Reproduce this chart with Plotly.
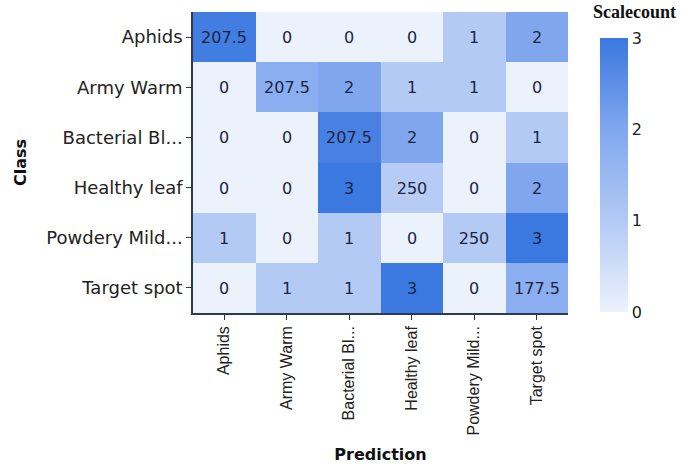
import plotly.graph_objects as go

# Class names (rows = true class, columns = predicted class)
classes = ["Aphids", "Army Warm", "Bacterial Bl...", "Healthy leaf",
           "Powdery Mild...", "Target spot"]

# Values printed in each cell
cell_labels = [
    ["207.5", "0", "0", "0", "1", "2"],
    ["0", "207.5", "2", "1", "1", "0"],
    ["0", "0", "207.5", "2", "0", "1"],
    ["0", "0", "3", "250", "0", "2"],
    ["1", "0", "1", "0", "250", "3"],
    ["0", "1", "1", "3", "0", "177.5"],
]

# Scalecount used for the cell shading (0-3 scale)
scale_count = [
    [2.9, 0, 0, 0, 1, 2],
    [0, 1.8, 2, 1, 1, 0],
    [0, 0, 2.8, 2, 0, 1],
    [0, 0, 3, 0.95, 0, 2],
    [1, 0, 1, 0, 1.0, 3],
    [0, 1, 1, 3, 0, 1.8],
]

colorbar_ticks = [0, 1, 2, 3]

blues = [
    [0.0, "#ebf2fc"],
    [0.333, "#b3caf4"],
    [0.667, "#80a7ee"],
    [1.0, "#3b78e0"],
]

fig = go.Figure(
    go.Heatmap(
        z=scale_count,
        x=classes,
        y=classes,
        text=cell_labels,
        texttemplate="%{text}",
        textfont=dict(family="DejaVu Sans", size=16, color="#1c2541"),
        colorscale=blues,
        zmin=0,
        zmax=3,
        colorbar=dict(
            tickvals=colorbar_ticks,
            ticks="",
            tickfont=dict(family="DejaVu Sans", size=16, color="#222"),
            outlinewidth=0,
            thickness=28,
            len=274,
            lenmode="pixels",
            x=1.085,
            xanchor="left",
            xpad=0,
            ypad=0,
            y=0.4585,
            yanchor="middle",
        ),
    )
)

fig.update_layout(
    width=689,
    height=464,
    margin=dict(l=193, r=121, t=12, b=151),
    paper_bgcolor="white",
    plot_bgcolor="white",
    annotations=[
        dict(
            text="<b>Scalecount</b>",
            xref="paper", yref="paper",
            x=1.176, y=0.999,
            xanchor="center", yanchor="middle",
            showarrow=False,
            font=dict(family="Liberation Serif", size=18, color="#111"),
        )
    ],
)

fig.update_xaxes(
    automargin=False,
    tickangle=-90,
    tickfont=dict(family="Liberation Sans", size=16, color="#222"),
    title=dict(text="<b>Prediction</b>", standoff=14,
               font=dict(family="DejaVu Sans", size=16, color="#111")),
    showline=True, linecolor="#2b3a55", linewidth=1.5,
    ticks="outside", ticklen=5, tickcolor="#333",
    showgrid=False, zeroline=False,
)

fig.update_yaxes(
    automargin=False,
    autorange="reversed",
    tickfont=dict(family="DejaVu Sans", size=18, color="#222"),
    title=dict(text="<b>Class</b>", standoff=16,
               font=dict(family="DejaVu Sans", size=16, color="#111")),
    showline=True, linecolor="#2b3a55", linewidth=1.5,
    ticks="outside", ticklen=5, tickcolor="#333",
    showgrid=False, zeroline=False,
)

fig.write_html("out.html")
